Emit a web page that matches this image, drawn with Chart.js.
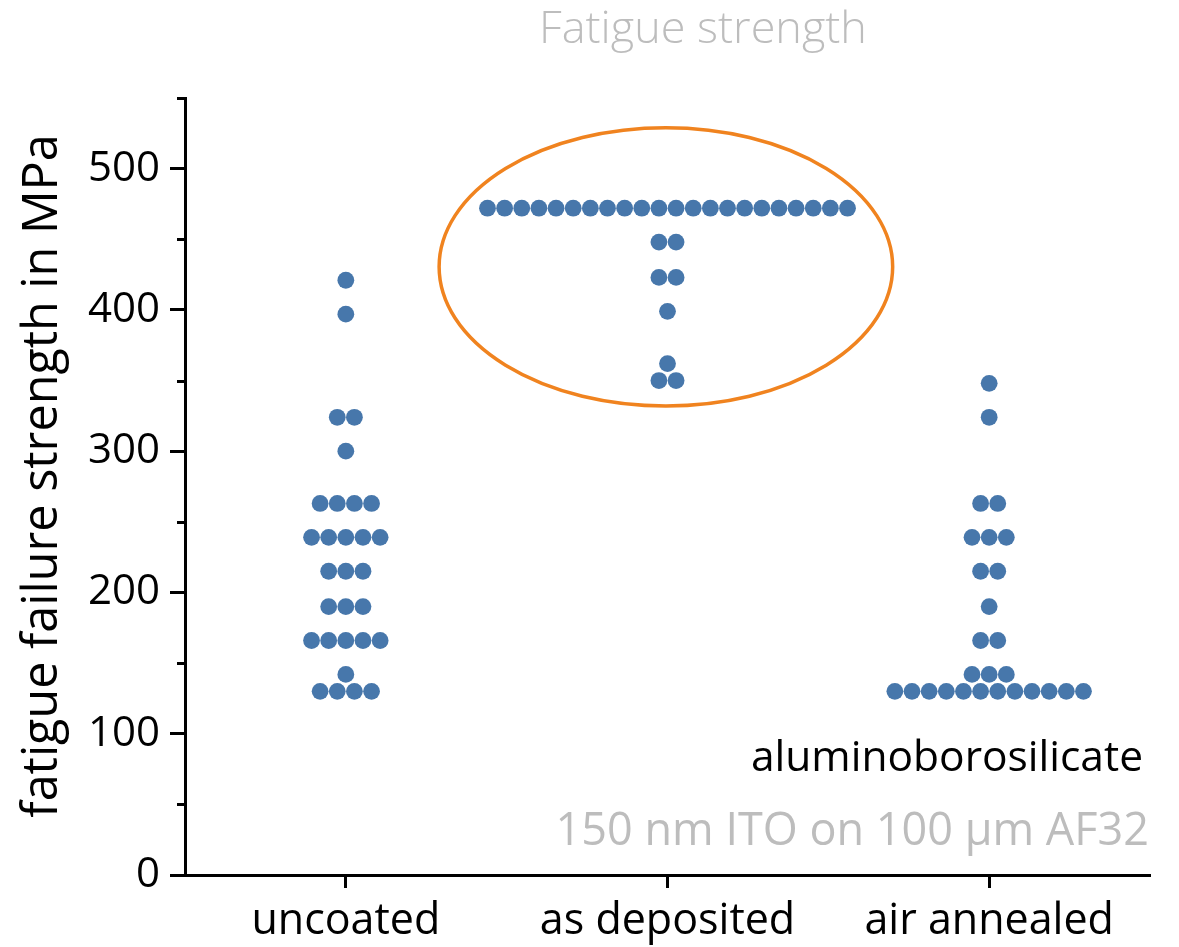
<!DOCTYPE html>
<html>
<head>
<meta charset="utf-8">
<title>Fatigue strength</title>
<script src="https://cdn.jsdelivr.net/npm/chart.js@4/dist/chart.umd.min.js"></script>
<style>
  html, body { margin: 0; padding: 0; background: #ffffff; }
  #wrap { width: 1179px; height: 947px; position: relative; }
</style>
</head>
<body>
<div id="wrap"><canvas id="chart" width="1179" height="947"></canvas></div>
<script>
// Sample groups
const categories = ['uncoated', 'as deposited', 'air annealed'];

// Fatigue failure strength of each specimen, MPa
const uncoated = [
  421, 397, 324, 324, 300,
  263, 263, 263, 263,
  239, 239, 239, 239, 239,
  215, 215, 215,
  190, 190, 190,
  166, 166, 166, 166, 166,
  142,
  130, 130, 130, 130
];
const asDeposited = [
  472, 472, 472, 472, 472, 472, 472, 472, 472, 472, 472,
  472, 472, 472, 472, 472, 472, 472, 472, 472, 472, 472,
  448, 448,
  423, 423,
  399,
  362,
  350, 350
];
const airAnnealed = [
  348, 324,
  263, 263,
  239, 239, 239,
  215, 215,
  190,
  166, 166,
  142, 142, 142,
  130, 130, 130, 130, 130, 130, 130, 130, 130, 130, 130, 130
];

// Y axis range and ticks
const yMin = 0;
const yMax = 550;
const yStep = 50;
const yLabelStep = 100;

// Text annotations
const titleText = 'Fatigue strength';
const yTitleText = 'fatigue failure strength in MPa';
const glassText = 'aluminoborosilicate';
const coatingText = '150 nm ITO on 100 µm AF32';

// Highlighted region (data units) around the "as deposited" group
const highlight = { xMin: 0.29, xMax: 1.70, yMin: 332, yMax: 529 };

// Horizontal distance between neighbouring dots of equal value (x units)
const DOT_STEP = 0.0533;
const DOT_COLOR = '#4777ab';
const FONT = "'Open Sans', 'Noto Sans', sans-serif";

// Spread equal values side by side, centred on the category
function swarm(values, catIndex) {
  const counts = {};
  values.forEach(v => { counts[v] = (counts[v] || 0) + 1; });
  const seen = {};
  return values.map(v => {
    const k = seen[v] = (seen[v] || 0) + 1;
    const n = counts[v];
    return { x: catIndex + (k - 1 - (n - 1) / 2) * DOT_STEP, y: v };
  });
}

const groups = [uncoated, asDeposited, airAnnealed];

const extras = {
  id: 'extras',
  afterDatasetsDraw(chart) {
    const { ctx, scales: { x, y } } = chart;
    // highlight ellipse
    const l = x.getPixelForValue(highlight.xMin), r = x.getPixelForValue(highlight.xMax);
    const t = y.getPixelForValue(highlight.yMax), b = y.getPixelForValue(highlight.yMin);
    ctx.save();
    ctx.beginPath();
    ctx.ellipse((l + r) / 2, (t + b) / 2, (r - l) / 2, (b - t) / 2, 0, 0, Math.PI * 2);
    ctx.strokeStyle = '#f0831f';
    ctx.lineWidth = 3.5;
    ctx.stroke();
    ctx.restore();
  },
  afterDraw(chart) {
    const { ctx, scales: { x, y } } = chart;
    ctx.save();
    // minor ticks on the y axis
    ctx.strokeStyle = '#000';
    ctx.lineWidth = 3;
    for (let v = yMin + yStep; v <= yMax; v += yLabelStep) {
      const py = Math.round(y.getPixelForValue(v)) + 0.5;
      ctx.beginPath();
      ctx.moveTo(y.right - 8, py);
      ctx.lineTo(y.right, py);
      ctx.stroke();
    }
    // title
    ctx.font = `300 45px ${FONT}`;
    ctx.fillStyle = '#bdbdbd';
    ctx.textAlign = 'center';
    ctx.textBaseline = 'alphabetic';
    ctx.fillText(titleText, 703, 43);
    // y axis title
    ctx.save();
    ctx.translate(57, 476);
    ctx.rotate(-Math.PI / 2);
    ctx.font = `400 48.5px ${FONT}`;
    ctx.fillStyle = '#000';
    ctx.textAlign = 'center';
    ctx.fillText(yTitleText, 0, 0);
    ctx.restore();
    // in-plot notes
    ctx.textAlign = 'right';
    ctx.font = `400 42.5px ${FONT}`;
    ctx.fillStyle = '#000';
    ctx.fillText(glassText, 1143, 771);
    ctx.font = `400 45px ${FONT}`;
    ctx.fillStyle = '#bdbdbd';
    ctx.fillText(coatingText, 1149, 845);
    ctx.restore();
  }
};

new Chart(document.getElementById('chart'), {
  type: 'scatter',
  data: {
    datasets: groups.map((vals, i) => ({
      label: categories[i],
      data: swarm(vals, i),
      backgroundColor: DOT_COLOR,
      borderWidth: 0,
      pointRadius: 8.4,
      pointHoverRadius: 8.4
    }))
  },
  options: {
    responsive: false,
    animation: false,
    devicePixelRatio: 1,
    layout: { padding: { top: 98, right: 29, left: 0, bottom: 0 } },
    plugins: { legend: { display: false }, tooltip: { enabled: false }, title: { display: false } },
    scales: {
      x: {
        type: 'linear',
        min: -0.5,
        max: 2.5,
        afterBuildTicks: s => { s.ticks = categories.map((_, i) => ({ value: i })); },
        afterFit: s => { s.height = 72; },
        border: { display: true, color: '#000', width: 3 },
        grid: { drawOnChartArea: false, drawTicks: true, tickLength: 13, tickWidth: 3, tickColor: '#000' },
        ticks: {
          padding: 8,
          color: '#000',
          font: { family: FONT, size: 43 },
          callback: v => categories[v] ?? ''
        }
      },
      y: {
        type: 'linear',
        min: yMin,
        max: yMax,
        afterFit: s => { s.width = 185; },
        border: { display: true, color: '#000', width: 3 },
        grid: {
          drawOnChartArea: false,
          drawTicks: true,
          tickLength: 15,
          tickWidth: 3,
          tickColor: c => (c.tick && c.tick.value % yLabelStep === 0) ? '#000' : 'rgba(0,0,0,0)'
        },
        ticks: {
          stepSize: yStep,
          padding: 10,
          color: '#000',
          font: { family: FONT, size: 42 },
          callback: v => (v % yLabelStep === 0 ? v : '')
        }
      }
    }
  },
  plugins: [extras]
});
</script>
</body>
</html>
